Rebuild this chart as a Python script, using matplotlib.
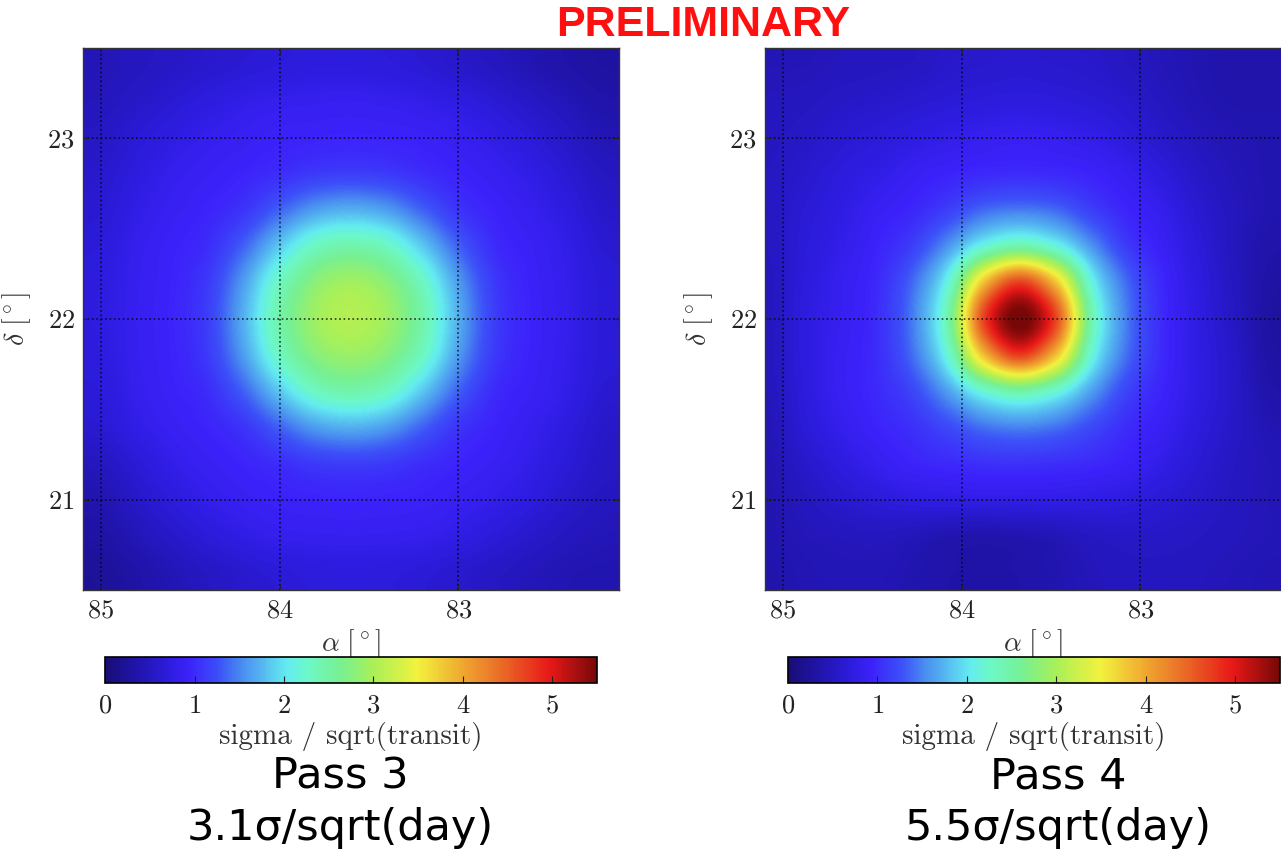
import matplotlib
matplotlib.use("Agg")
import matplotlib.pyplot as plt
from matplotlib.colors import LinearSegmentedColormap
import numpy as np

plt.rcParams['font.family'] = 'serif'
plt.rcParams['font.serif'] = ['cmr10']
plt.rcParams['mathtext.fontset'] = 'cm'
plt.rcParams['axes.formatter.use_mathtext'] = True

# significance maps, 15 x 15 cells of 0.2 deg, top row = highest dec
# columns go from high RA (left) to low RA (right)
ra_pass3 = [85.0, 84.8, 84.6, 84.4, 84.2, 84.0, 83.8, 83.6, 83.4, 83.2, 83.0, 82.8, 82.6, 82.4, 82.2]
ra_pass4 = [85.075, 84.875, 84.675, 84.475, 84.275, 84.075, 83.875, 83.675,
            83.475, 83.275, 83.075, 82.875, 82.675, 82.475, 82.275]
dec_cells = [23.4, 23.2, 23.0, 22.8, 22.6, 22.4, 22.2, 22.0, 21.8, 21.6, 21.4, 21.2, 21.0, 20.8, 20.6]

sig_pass3 = [
    [0.45, 0.50, 0.55, 0.60, 0.65, 0.69, 0.72, 0.72, 0.70, 0.65, 0.58, 0.50, 0.42, 0.35, 0.30],
    [0.48, 0.56, 0.64, 0.72, 0.79, 0.83, 0.85, 0.86, 0.84, 0.80, 0.74, 0.65, 0.55, 0.45, 0.36],
    [0.54, 0.65, 0.75, 0.83, 0.88, 0.93, 0.95, 0.96, 0.95, 0.92, 0.86, 0.78, 0.68, 0.56, 0.44],
    [0.60, 0.72, 0.83, 0.90, 0.96, 1.03, 1.12, 1.15, 1.12, 1.03, 0.95, 0.87, 0.78, 0.65, 0.52],
    [0.64, 0.78, 0.88, 0.96, 1.08, 1.35, 1.62, 1.72, 1.62, 1.35, 1.08, 0.95, 0.85, 0.73, 0.58],
    [0.69, 0.83, 0.93, 1.03, 1.35, 1.85, 2.30, 2.45, 2.30, 1.85, 1.35, 1.02, 0.91, 0.80, 0.64],
    [0.73, 0.85, 0.95, 1.12, 1.62, 2.30, 2.78, 2.95, 2.78, 2.30, 1.62, 1.12, 0.94, 0.82, 0.68],
    [0.74, 0.86, 0.96, 1.15, 1.72, 2.45, 2.92, 3.08, 2.92, 2.45, 1.72, 1.15, 0.95, 0.83, 0.68],
    [0.73, 0.85, 0.95, 1.12, 1.62, 2.30, 2.75, 2.90, 2.75, 2.30, 1.62, 1.12, 0.94, 0.82, 0.68],
    [0.69, 0.83, 0.93, 1.03, 1.35, 1.85, 2.30, 2.45, 2.30, 1.85, 1.35, 1.02, 0.91, 0.80, 0.64],
    [0.64, 0.78, 0.88, 0.96, 1.08, 1.35, 1.62, 1.72, 1.62, 1.35, 1.08, 0.95, 0.85, 0.73, 0.58],
    [0.50, 0.66, 0.80, 0.89, 0.96, 1.03, 1.12, 1.15, 1.12, 1.03, 0.96, 0.89, 0.80, 0.67, 0.55],
    [0.40, 0.56, 0.70, 0.81, 0.88, 0.93, 0.95, 0.96, 0.95, 0.93, 0.88, 0.81, 0.72, 0.60, 0.50],
    [0.32, 0.45, 0.57, 0.68, 0.77, 0.83, 0.85, 0.86, 0.85, 0.83, 0.77, 0.68, 0.59, 0.50, 0.45],
    [0.25, 0.34, 0.44, 0.53, 0.61, 0.67, 0.71, 0.72, 0.71, 0.67, 0.61, 0.54, 0.47, 0.42, 0.40],
]

sig_pass4 = [
    [0.45, 0.45, 0.48, 0.50, 0.52, 0.58, 0.60, 0.62, 0.60, 0.58, 0.52, 0.45, 0.40, 0.36, 0.36],
    [0.48, 0.50, 0.55, 0.58, 0.62, 0.66, 0.70, 0.72, 0.70, 0.66, 0.60, 0.50, 0.42, 0.38, 0.38],
    [0.50, 0.55, 0.62, 0.68, 0.74, 0.80, 0.85, 0.88, 0.85, 0.80, 0.70, 0.58, 0.48, 0.42, 0.40],
    [0.52, 0.60, 0.70, 0.78, 0.88, 0.95, 1.00, 1.02, 1.00, 0.95, 0.85, 0.70, 0.55, 0.45, 0.40],
    [0.52, 0.65, 0.75, 0.88, 0.98, 1.15, 1.38, 1.46, 1.38, 1.15, 0.96, 0.82, 0.62, 0.48, 0.40],
    [0.52, 0.68, 0.80, 0.95, 1.15, 1.58, 2.16, 2.45, 2.16, 1.58, 1.12, 0.90, 0.68, 0.48, 0.36],
    [0.50, 0.70, 0.85, 1.00, 1.38, 2.16, 3.82, 4.70, 3.82, 2.16, 1.38, 0.98, 0.72, 0.50, 0.32],
    [0.50, 0.72, 0.86, 1.02, 1.46, 2.45, 4.70, 5.55, 4.70, 2.45, 1.46, 1.00, 0.74, 0.52, 0.30],
    [0.50, 0.72, 0.88, 1.02, 1.40, 2.20, 3.86, 4.75, 3.86, 2.20, 1.40, 1.00, 0.75, 0.55, 0.32],
    [0.48, 0.70, 0.88, 1.00, 1.20, 1.64, 2.22, 2.50, 2.22, 1.64, 1.18, 0.95, 0.75, 0.56, 0.36],
    [0.45, 0.66, 0.82, 0.95, 1.05, 1.22, 1.42, 1.50, 1.42, 1.22, 1.02, 0.88, 0.70, 0.55, 0.42],
    [0.42, 0.58, 0.72, 0.85, 0.95, 1.00, 1.05, 1.06, 1.04, 1.00, 0.92, 0.78, 0.64, 0.52, 0.45],
    [0.40, 0.50, 0.60, 0.68, 0.74, 0.76, 0.78, 0.78, 0.78, 0.76, 0.72, 0.65, 0.58, 0.50, 0.45],
    [0.40, 0.45, 0.48, 0.50, 0.46, 0.40, 0.38, 0.40, 0.45, 0.52, 0.55, 0.55, 0.52, 0.48, 0.45],
    [0.38, 0.42, 0.44, 0.44, 0.40, 0.35, 0.33, 0.35, 0.40, 0.46, 0.50, 0.50, 0.48, 0.45, 0.42],
]

pass_names = ["Pass 3", "Pass 4"]
pass_results = ["3.1\u03c3/sqrt(day)", "5.5\u03c3/sqrt(day)"]
x_ticks = [85, 84, 83]
y_ticks = [21, 22, 23]
cb_ticks = [0, 1, 2, 3, 4, 5]
vmax = 5.5

# colour scale
cmap = LinearSegmentedColormap.from_list("hawc", [
    (0.00, "#180d78"), (0.06, "#2014a8"), (0.125, "#2c1cdc"), (0.17, "#3c22fa"),
    (0.23, "#3c50f8"), (0.28, "#4a90f0"), (0.37, "#64ecf0"), (0.41, "#6cf8c8"),
    (0.48, "#78f090"), (0.545, "#a8f058"), (0.635, "#f2f23e"), (0.727, "#f0a830"),
    (0.80, "#ea7028"), (0.905, "#e81818"), (1.00, "#780808"),
])

fig = plt.figure(figsize=(12.81, 8.51), dpi=100)

panels = [
    (ra_pass3, sig_pass3, [0.0648, 0.3067, 0.4184, 0.6369], [0.0820, 0.1974, 0.3841, 0.0306], 0.2654),
    (ra_pass4, sig_pass4, [0.5972, 0.3067, 0.4184, 0.6369], [0.6151, 0.1974, 0.3841, 0.0306], 0.8259),
]

for k, (ra, sig, ax_pos, cb_pos, xc) in enumerate(panels):
    ax = fig.add_axes(ax_pos)
    half_ra = (ra[0] - ra[1]) / 2
    half_dec = (dec_cells[0] - dec_cells[1]) / 2
    extent = [ra[0] + half_ra, ra[-1] - half_ra,
              dec_cells[-1] - half_dec, dec_cells[0] + half_dec]
    im = ax.imshow(np.array(sig), cmap=cmap, vmin=0, vmax=vmax, extent=extent,
                   origin='upper', interpolation='catrom', aspect='auto')
    ax.set_xlim(85.1, 82.1)
    ax.set_ylim(20.5, 23.5)
    ax.set_xticks(x_ticks)
    ax.set_yticks(y_ticks)
    ax.grid(True, linestyle=':', color='black', linewidth=1.2, alpha=0.75)
    ax.tick_params(direction='in', length=4, labelsize=19, colors='#222222',
                   top=True, right=True, pad=6)
    for s in ax.spines.values():
        s.set_color('#333333')
        s.set_linewidth(1.0)
    ax.set_xlabel(r'$\alpha\ [^\circ]$', fontsize=20, color='#333333', labelpad=4)
    ax.set_ylabel(r'$\delta\ [^\circ]$', fontsize=20, color='#333333', labelpad=10)

    cax = fig.add_axes(cb_pos)
    cb = fig.colorbar(im, cax=cax, orientation='horizontal', ticks=cb_ticks)
    cb.ax.tick_params(direction='in', length=5, labelsize=19, colors='#222222', pad=8)
    cb.outline.set_linewidth(1.2)
    cb.set_label('sigma / sqrt(transit)', fontsize=21, color='#333333', labelpad=3)

    fig.text(xc, 0.0881, pass_names[k], ha='center', va='center',
             fontsize=31, family='DejaVu Sans', color='black')
    fig.text(xc, 0.027, pass_results[k], ha='center', va='center',
             fontsize=31, family='DejaVu Sans', color='black')

fig.text(0.549, 0.9706, "PRELIMINARY", ha='center', va='center', fontsize=31,
         fontweight='bold', family='Liberation Sans', color='#ff1010')

fig.savefig("out.png", dpi=100)
